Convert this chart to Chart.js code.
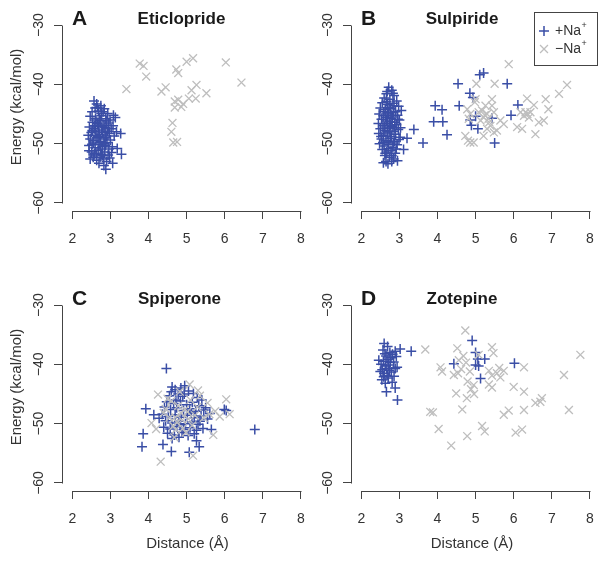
<!DOCTYPE html>
<html><head><meta charset="utf-8">
<script src="https://cdn.jsdelivr.net/npm/chart.js@4.4.1/dist/chart.umd.min.js"></script>
<style>
body{margin:0;background:#fff;width:612px;height:562px;position:relative;overflow:hidden}
canvas{position:absolute}
</style></head><body>
<canvas id="cA" width="330" height="280" style="left:0;top:0"></canvas>
<canvas id="cC" width="330" height="282" style="left:0;top:280px"></canvas>
<canvas id="cB" width="306" height="280" style="left:306px;top:0"></canvas>
<canvas id="cD" width="306" height="282" style="left:306px;top:280px"></canvas>
<script>
// ---------- data ----------
const xTicks = [2, 3, 4, 5, 6, 7, 8];
const yTicks = [-30, -40, -50, -60];
const panelLetters = ['A', 'B', 'C', 'D'];
const panelTitles = ['Eticlopride', 'Sulpiride', 'Spiperone', 'Zotepine'];
const seriesNames = ['+Na', '\u2212Na'];

const eticloprideWithNa = [[2.57,-42.8],[2.64,-43.3],[2.75,-43.6],[2.60,-44.0],[2.84,-44.1],[2.52,-44.6],[2.69,-44.5],[2.93,-44.9],[3.08,-45.2],[2.47,-45.4],[2.61,-45.7],[2.77,-45.3],[2.88,-45.8],[2.99,-46.0],[3.13,-45.6],[2.53,-46.4],[2.66,-46.6],[2.74,-46.1],[2.83,-46.9],[2.95,-46.5],[3.07,-47.0],[2.45,-47.2],[2.58,-47.5],[2.69,-47.1],[2.77,-47.7],[2.86,-47.3],[2.93,-47.9],[3.02,-47.5],[3.16,-48.0],[3.27,-48.3],[2.42,-48.6],[2.50,-48.1],[2.61,-48.0],[2.72,-48.5],[2.80,-48.1],[2.89,-48.7],[2.97,-48.3],[3.10,-48.7],[2.47,-49.2],[2.55,-49.5],[2.65,-49.0],[2.74,-49.6],[2.83,-49.2],[2.91,-49.8],[3.00,-49.4],[2.44,-50.3],[2.52,-50.1],[2.60,-50.7],[2.70,-50.2],[2.79,-50.5],[2.87,-50.3],[2.96,-50.9],[3.05,-50.5],[3.18,-50.8],[2.44,-51.2],[2.51,-51.4],[2.59,-51.7],[2.68,-51.1],[2.76,-51.8],[2.85,-51.4],[2.94,-51.9],[3.03,-51.5],[3.29,-51.8],[2.47,-52.6],[2.55,-52.3],[2.64,-52.8],[2.73,-52.3],[2.82,-52.6],[2.90,-53.0],[2.70,-53.3],[2.83,-53.7],[3.06,-53.3],[2.88,-54.3],[2.62,-46.0],[2.68,-48.8],[2.76,-44.9],[2.81,-44.6],[2.64,-51.9],[2.73,-49.8],[2.58,-47.0],[2.90,-46.2],[2.80,-52.0],[2.71,-45.8],[2.66,-43.9],[2.56,-49.9],[2.85,-50.0],[2.78,-47.1],[2.62,-48.6],[2.95,-47.4],[2.70,-46.9],[2.53,-47.8],[2.87,-49.0],[2.74,-50.9],[2.98,-52.4]];
const eticloprideNoNa = [[3.42,-40.8],[3.77,-36.5],[3.87,-36.9],[3.94,-38.7],[4.34,-41.2],[4.45,-40.5],[4.73,-37.5],[4.78,-38.1],[4.69,-42.9],[4.78,-42.6],[4.86,-43.8],[4.69,-43.9],[4.91,-43.3],[5.00,-36.2],[5.17,-35.6],[5.13,-41.0],[5.26,-40.1],[5.06,-42.4],[5.24,-42.4],[5.52,-41.5],[6.03,-36.3],[6.44,-39.7],[4.63,-46.5],[4.60,-48.0],[4.65,-49.8],[4.75,-49.7]];

const sulpirideWithNa = [[3.38,-47.6],[3.20,-49.1],[3.11,-51.0],[3.62,-49.9],[3.94,-43.6],[3.90,-46.3],[4.12,-44.3],[4.14,-46.3],[4.25,-48.5],[4.54,-39.9],[4.57,-43.6],[4.85,-41.5],[4.93,-42.2],[4.89,-46.9],[5.00,-45.4],[5.06,-47.5],[5.11,-38.4],[5.21,-38.1],[5.43,-45.7],[5.50,-49.9],[5.83,-39.9],[5.93,-45.2],[6.11,-43.5],[4.86,-46.0],
[2.72,-40.5],[2.80,-41.0],[2.66,-41.6],[2.86,-41.9],[2.60,-42.3],[2.75,-42.5],[2.93,-42.8],[2.55,-43.1],[2.69,-43.4],[2.83,-43.2],[2.98,-43.7],[2.50,-44.0],[2.63,-44.3],[2.77,-44.1],[2.90,-44.6],[3.05,-44.4],[2.47,-45.0],[2.58,-45.3],[2.71,-45.0],[2.82,-45.5],[2.95,-45.2],[2.53,-45.9],[2.66,-46.2],[2.78,-45.8],[2.88,-46.4],[3.00,-46.0],[2.45,-46.6],[2.57,-46.9],[2.69,-46.6],[2.81,-47.1],[2.92,-46.8],[3.03,-47.3],[2.50,-47.5],[2.62,-47.8],[2.74,-47.4],[2.86,-47.9],[2.97,-47.6],[2.46,-48.3],[2.58,-48.6],[2.70,-48.2],[2.79,-48.8],[2.90,-48.4],[3.02,-48.9],[2.53,-49.2],[2.65,-49.5],[2.76,-49.1],[2.87,-49.6],[2.99,-49.3],[2.48,-50.0],[2.60,-50.4],[2.72,-50.1],[2.83,-50.6],[2.94,-50.2],[2.55,-51.0],[2.67,-51.4],[2.78,-51.1],[2.89,-51.6],[2.62,-52.0],[2.74,-52.3],[2.85,-52.6],[2.95,-52.9],[2.58,-53.2],[2.70,-53.4],[2.80,-53.0],[2.68,-41.2],[2.73,-43.9],[2.64,-45.6],[2.84,-44.8],[2.76,-46.9],[2.61,-47.2],[2.88,-47.3],[2.68,-48.0],[2.84,-49.9],[2.57,-49.8],[2.71,-50.8],[2.79,-45.2],[2.66,-42.9],[2.92,-50.9],[2.75,-47.9],[2.69,-44.8],[2.86,-43.6],[2.52,-48.8],[2.63,-51.6],[2.80,-52.0],[2.74,-46.3],[2.96,-45.9],[2.59,-44.6],[2.83,-41.5],[2.70,-49.7],[2.65,-53.0]];
const sulpirideNoNa = [[5.87,-36.6],[5.02,-39.9],[5.50,-39.9],[5.00,-42.5],[7.40,-40.1],[7.19,-41.6],[6.84,-42.5],[6.35,-42.4],[6.53,-43.5],[6.91,-44.2],[6.18,-44.7],[6.27,-45.3],[6.40,-45.6],[6.31,-44.7],[6.44,-44.7],[6.66,-46.4],[6.79,-46.1],[6.57,-48.4],[6.09,-47.2],[6.22,-47.5],[5.74,-46.7],[5.65,-46.1],[5.56,-47.8],[5.43,-42.5],[5.43,-43.6],[5.17,-44.4],[5.30,-45.0],[5.21,-45.6],[5.34,-45.8],[5.13,-46.1],[5.39,-47.0],[5.30,-47.5],[5.48,-44.7],[5.26,-43.6],[5.08,-44.7],[4.86,-45.0],[4.78,-44.2],[4.82,-45.8],[4.73,-48.7],[4.86,-49.8],[4.95,-49.8],[4.80,-49.5],[5.21,-48.7],[5.48,-48.1],[5.24,-45.2],[5.36,-46.4],[6.36,-45.0],[4.98,-43.0]];

const spiperoneWithNa = [[4.47,-40.7],[3.93,-47.5],[4.14,-48.5],[3.86,-51.7],[3.83,-53.9],[4.38,-53.5],[4.60,-54.7],[5.07,-54.8],[5.33,-53.9],[5.26,-52.9],[6.79,-51.0],[5.99,-47.6],[6.04,-47.8],[5.61,-48.3],[5.65,-51.0],
[4.62,-43.8],[4.70,-44.3],[4.85,-44.0],[4.95,-43.6],[5.05,-44.5],[5.18,-44.9],[4.55,-45.3],[4.78,-45.0],[4.90,-45.4],[5.28,-45.6],[5.40,-46.0],[4.48,-46.3],[4.66,-46.6],[4.84,-46.2],[5.00,-46.8],[5.15,-46.4],[5.32,-47.0],[4.42,-47.2],[4.58,-47.6],[4.74,-47.3],[4.92,-47.8],[5.08,-47.5],[5.24,-47.9],[5.45,-47.7],[4.36,-48.4],[4.52,-48.8],[4.70,-48.5],[4.86,-48.9],[5.02,-48.6],[5.20,-49.0],[5.38,-48.7],[5.55,-49.2],[4.45,-49.5],[4.62,-49.9],[4.80,-49.6],[4.97,-50.0],[5.14,-49.7],[5.30,-50.1],[4.40,-50.6],[4.57,-50.9],[4.75,-50.5],[4.92,-51.0],[5.09,-50.7],[5.26,-51.1],[5.43,-50.8],[4.50,-51.6],[4.68,-51.9],[4.88,-51.5],[5.04,-52.0],[5.20,-51.7],[4.62,-52.5],[4.80,-52.3],[4.72,-46.0],[4.94,-45.0],[5.12,-48.2],[4.83,-50.2],[5.50,-47.3],[4.60,-44.6],[5.35,-49.6],[4.28,-49.1]];
const spiperoneNoNa = [[4.25,-45.1],[5.08,-43.4],[6.04,-45.9],[6.13,-48.4],[5.70,-51.9],[5.17,-55.4],[4.32,-56.4],[4.08,-49.9],[5.35,-45.3],[5.87,-48.8],[4.20,-50.9],[4.45,-47.5],[4.55,-49.0],[4.65,-50.4],[4.72,-51.0],[4.78,-47.0],[4.85,-48.2],[4.90,-50.8],[4.96,-47.6],[5.02,-48.0],[4.88,-49.4],[4.70,-48.9],[5.10,-46.0],[5.22,-48.6],[5.15,-50.3],[5.45,-49.0],[5.60,-48.4],[5.55,-46.5],[4.60,-46.2],[4.50,-45.8],[4.82,-44.6],[5.30,-44.4],[5.75,-47.9],[5.28,-47.2],[4.98,-51.5],[4.68,-52.3],[4.40,-48.2],[5.05,-49.2],[4.75,-49.8]];

const zotepineWithNa = [[2.60,-36.5],[2.57,-37.6],[2.69,-37.0],[2.89,-37.8],[3.02,-37.4],[3.31,-37.8],[2.75,-38.0],[2.82,-38.3],[2.65,-38.6],[2.78,-38.9],[2.92,-38.7],[2.46,-39.3],[2.58,-39.5],[2.70,-39.2],[2.85,-39.6],[2.52,-40.0],[2.63,-40.3],[2.67,-40.7],[2.89,-40.7],[2.94,-40.5],[2.55,-40.9],[2.74,-41.0],[2.60,-41.5],[2.79,-41.3],[2.68,-41.9],[2.59,-42.1],[2.54,-42.6],[2.71,-42.3],[2.81,-43.0],[2.63,-43.2],[2.66,-44.6],[2.89,-44.0],[2.95,-46.0],[2.76,-39.7],[2.62,-38.2],[2.72,-40.1],[2.50,-41.2],[2.86,-42.0],[4.91,-36.0],[5.00,-38.0],[5.24,-39.1],[5.06,-39.1],[5.00,-40.1],[5.08,-40.3],[4.43,-39.9],[5.13,-42.4],[6.02,-39.8]];
const zotepineNoNa = [[4.73,-34.3],[3.68,-37.5],[3.81,-48.0],[3.88,-48.1],[4.03,-50.9],[4.36,-53.7],[4.78,-52.1],[5.17,-50.4],[5.24,-51.3],[4.08,-40.5],[4.12,-41.2],[4.54,-41.5],[4.49,-44.9],[4.65,-47.6],[4.77,-45.7],[4.88,-44.2],[4.96,-45.0],[4.56,-39.3],[4.52,-37.3],[4.75,-39.7],[5.08,-38.4],[5.43,-37.1],[5.47,-38.1],[5.35,-41.1],[5.43,-41.9],[5.56,-41.5],[5.65,-42.2],[5.74,-41.1],[5.43,-43.9],[5.35,-43.4],[4.95,-43.5],[4.79,-42.9],[5.74,-48.5],[5.87,-47.8],[6.00,-43.8],[6.05,-51.5],[6.22,-51.0],[6.27,-44.6],[6.27,-47.7],[6.27,-40.5],[6.57,-46.5],[6.70,-46.3],[6.74,-45.7],[7.32,-41.8],[7.45,-47.7],[7.75,-38.4],[8.26,-40.5],[4.43,-41.8],[4.62,-40.8],[4.85,-41.2],[5.62,-40.6],[4.68,-38.6]];

// ---------- styling / layout ----------
const FONT = '"Liberation Sans", Arial, Helvetica, sans-serif';
const BLUE = '#3a4ea6';
const GREY = '#bebebe';
const AXIS = '#444444';
const TEXT = '#333333';
const X_MIN = 1.73, X_MAX = 8.06, Y_MIN = -61.35, Y_MAX = -28.65;
const PX_PER_X = 38.1;
Chart.defaults.font.family = FONT;

const toPts = arr => arr.map(p => ({x: p[0], y: p[1]}));
const minus = v => (v < 0 ? '\u2212' + Math.abs(v) : String(v));

const rPlot = {
  id: 'rPlot',
  afterDraw(chart, args, o) {
    const {ctx, chartArea: ca, scales: {x, y}} = chart;
    ctx.save();
    ctx.strokeStyle = AXIS; ctx.lineWidth = 1;
    ctx.beginPath();
    const by = Math.round(ca.bottom) + 0.5;
    ctx.moveTo(Math.round(x.getPixelForValue(xTicks[0])) + 0.5, by);
    ctx.lineTo(Math.round(x.getPixelForValue(xTicks[xTicks.length - 1])) + 0.5, by);
    const lx = Math.round(ca.left) + 0.5;
    ctx.moveTo(lx, Math.round(y.getPixelForValue(yTicks[0])) + 0.5);
    ctx.lineTo(lx, Math.round(y.getPixelForValue(yTicks[yTicks.length - 1])) + 0.5);
    ctx.stroke();
    ctx.fillStyle = '#1a1a1a';
    ctx.textBaseline = 'middle'; ctx.textAlign = 'center';
    ctx.font = 'bold 21px ' + FONT;
    ctx.fillText(o.letter, ca.left + 17.5, 19);
    ctx.font = 'bold 17px ' + FONT;
    ctx.fillText(o.title, o.titleX, 19);
    ctx.fillStyle = TEXT;
    ctx.font = '15px ' + FONT;
    if (o.ylab) {
      ctx.save(); ctx.translate(17, 107); ctx.rotate(-Math.PI / 2);
      ctx.fillText('Energy (kcal/mol)', 0, 0); ctx.restore();
    }
    if (o.xlab) { ctx.fillText('Distance (\u00C5)', o.xlabX, 264); }
    if (o.legend) {
      const L = o.legend;
      ctx.strokeStyle = AXIS; ctx.lineWidth = 1;
      ctx.strokeRect(L.x + 0.5, L.y + 0.5, L.w, L.h);
      const ds = chart.data.datasets;
      const rows = [ds[1], ds[0]];
      rows.forEach((d, i) => {
        const cy = L.y + 19 + i * 18;
        ctx.strokeStyle = d.borderColor; ctx.fillStyle = d.borderColor;
        ctx.lineWidth = d.borderWidth;
        Chart.helpers.drawPoint(ctx, {pointStyle: d.pointStyle, radius: d.pointRadius, rotation: 0, borderWidth: d.borderWidth}, L.x + 10, cy);
        ctx.fillStyle = TEXT; ctx.textAlign = 'left'; ctx.textBaseline = 'middle';
        ctx.font = '14px ' + FONT;
        const name = seriesNames[i];
        ctx.fillText(name, L.x + 21, cy);
        const w = ctx.measureText(name).width;
        ctx.font = '9px ' + FONT;
        ctx.fillText('+', L.x + 21 + w + 0.5, cy - 5);
      });
    }
    ctx.restore();
  }
};

function makePanel(id, idx, withNa, noNa, cfg) {
  const canvas = document.getElementById(id);
  const W = canvas.width, H = canvas.height;
  const plotW = (X_MAX - X_MIN) * PX_PER_X;
  new Chart(canvas, {
    type: 'scatter',
    data: {
      datasets: [
        {label: '\u2212Na+', data: toPts(noNa), pointStyle: 'crossRot', pointRadius: 5.6, borderColor: GREY, backgroundColor: GREY, borderWidth: 1.3, clip: false},
        {label: '+Na+', data: toPts(withNa), pointStyle: 'cross', pointRadius: 5, borderColor: BLUE, backgroundColor: BLUE, borderWidth: 1.5, clip: false}
      ]
    },
    options: {
      responsive: false, animation: false, events: [], devicePixelRatio: 1,
      layout: {padding: {left: 0, top: 17, right: W - cfg.left - plotW, bottom: 0}},
      plugins: {legend: {display: false}, tooltip: {enabled: false},
        rPlot: {letter: panelLetters[idx], title: panelTitles[idx], titleX: cfg.titleX, ylab: cfg.ylab, xlab: cfg.xlab, xlabX: cfg.xlabX, legend: cfg.legend}},
      scales: {
        x: {type: 'linear', min: X_MIN, max: X_MAX,
          afterBuildTicks: s => { s.ticks = xTicks.map(v => ({value: v})); },
          afterFit: s => { s.height = H - 211; s.paddingLeft = 0; s.paddingRight = 0; },
          grid: {display: true, drawOnChartArea: false, drawTicks: true, tickLength: 8, color: AXIS, lineWidth: 1},
          border: {display: false},
          ticks: {font: {size: 14}, color: TEXT, padding: 12, maxRotation: 0, autoSkip: false}},
        y: {type: 'linear', min: Y_MIN, max: Y_MAX,
          afterBuildTicks: s => { s.ticks = yTicks.map(v => ({value: v})); },
          afterFit: s => { s.width = cfg.left; s.paddingTop = 0; s.paddingBottom = 0; },
          grid: {display: true, drawOnChartArea: false, drawTicks: true, tickLength: 8, color: AXIS, lineWidth: 1},
          border: {display: false},
          ticks: {font: {size: 14}, color: TEXT, padding: 3, minRotation: 90, maxRotation: 90, crossAlign: 'center',
            callback: v => minus(v)}}
      }
    },
    plugins: [rPlot]
  });
}

makePanel('cA', 0, eticloprideWithNa, eticloprideNoNa, {left: 62, titleX: 181.5, ylab: true});
makePanel('cB', 1, sulpirideWithNa, sulpirideNoNa, {left: 45, titleX: 156, legend: {x: 228, y: 12, w: 63, h: 53}});
makePanel('cC', 2, spiperoneWithNa, spiperoneNoNa, {left: 62, titleX: 179.5, ylab: true, xlab: true, xlabX: 187.5});
makePanel('cD', 3, zotepineWithNa, zotepineNoNa, {left: 45, titleX: 156, xlab: true, xlabX: 166});
</script>
</body></html>
